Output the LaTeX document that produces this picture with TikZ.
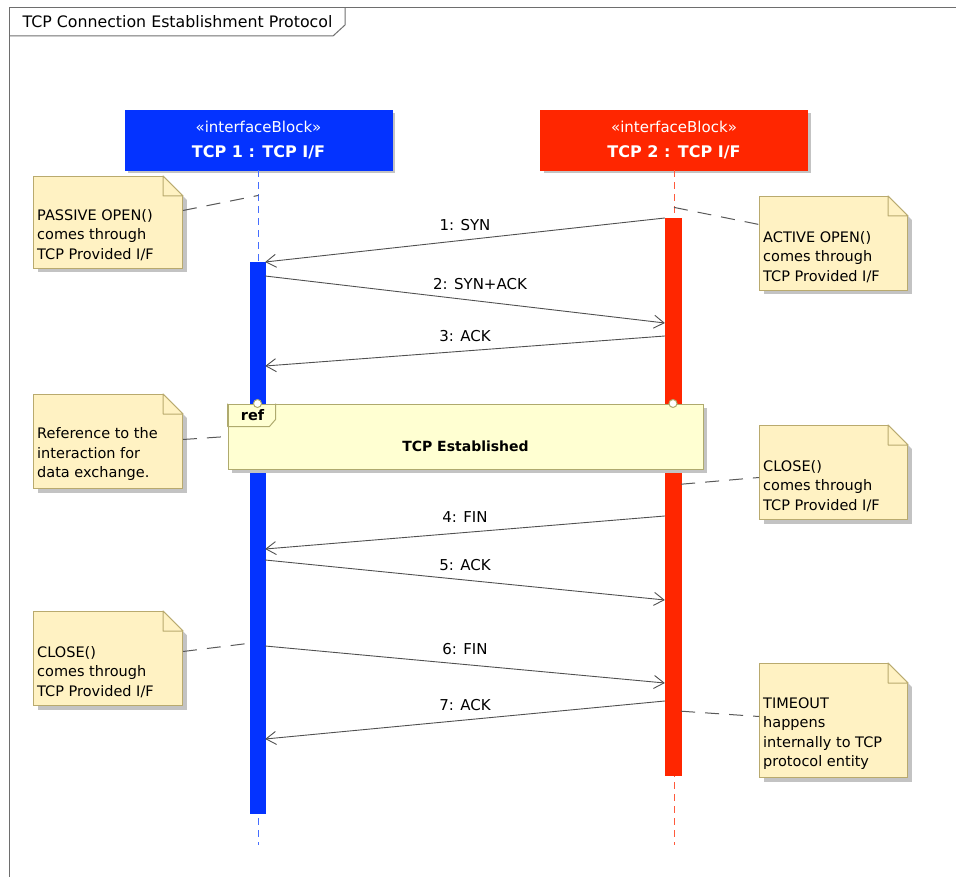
\documentclass[tikz,border=0pt]{standalone}
\usepackage{fontspec}
\setmainfont{DejaVu Sans}
\usetikzlibrary{positioning,arrows.meta,calc,shadows}

\definecolor{tcpblue}{RGB}{4,51,255}
\definecolor{tcpred}{RGB}{255,38,0}
\definecolor{lineblue}{RGB}{70,110,255}
\definecolor{linered}{RGB}{255,90,60}
\definecolor{notefill}{RGB}{255,242,195}
\definecolor{notedraw}{RGB}{185,170,110}
\definecolor{reffill}{RGB}{255,255,210}
\definecolor{refdraw}{RGB}{175,170,110}
\definecolor{msggray}{RGB}{80,80,80}
\definecolor{framegray}{RGB}{110,110,110}
\definecolor{shadowgray}{RGB}{195,195,195}

\begin{document}
\begin{tikzpicture}[x=1pt,y=-1pt,
    font=\fontsize{14.5}{19.5}\selectfont,
% lifeline heads
    block/.style={rectangle,draw=#1,fill=#1,anchor=north,text=white,align=center,
        minimum width=267pt,minimum height=60pt,
        drop shadow={shadow xshift=3pt,shadow yshift=-3pt,fill=shadowgray,opacity=1},
        font=\fontsize{15}{25}\selectfont},
    lifeline/.style={#1,line width=1pt,dash pattern=on 7pt off 5pt},
    activation/.style={rectangle,fill=#1,draw=#1,anchor=north,
        minimum width=15pt,inner sep=0pt},
% messages
    msg/.style={msggray,line width=0.9pt,-{Straight Barb[length=10pt,width=13pt]}},
    msglabel/.style={midway,yshift=15pt,text=black,font=\fontsize{15}{18}\selectfont},
% comment notes
    note/.style={rectangle,draw=notedraw,fill=notefill,anchor=north west,line width=1pt,
        minimum width=149pt,
        drop shadow={shadow xshift=4pt,shadow yshift=-4pt,fill=shadowgray,opacity=1},
        label={[anchor=south west,inner xsep=4pt,inner ysep=8pt,align=left,text=black]south west:#1}},
    fold/.style={draw=notedraw,fill=notefill,line width=1pt,line join=round},
    link/.style={gray!70!black,line width=1pt,dash pattern=on 14pt off 10pt},
    refbox/.style={rectangle,draw=refdraw,fill=reffill,line width=1pt,
        minimum width=475pt,minimum height=65pt,
        drop shadow={shadow xshift=4pt,shadow yshift=-4pt,fill=shadowgray,opacity=1}},
    gate/.style={circle,draw=refdraw,fill=white,line width=1pt,minimum size=8pt,inner sep=0pt}
    ]
\useasboundingbox (0,0) rectangle (956,877);

% diagram frame and title
\draw[framegray,line width=1pt] (9,877) -- (9,8) -- (960,8);
\draw[framegray,line width=1pt] (9,36) -- (333,36) -- (345,25) -- (345,8);
\node[anchor=west,font=\fontsize{15.8}{18}\selectfont] (title) at (19,22) {TCP Connection Establishment Protocol};

% lifelines
\node[block=tcpblue] (tcp1) at (258.5,110) {«interfaceBlock»\\{\fontsize{16}{25}\selectfont\textbf{TCP 1 : TCP I/F}}};
\node[block=tcpred] (tcp2) at (674,110) {«interfaceBlock»\\{\fontsize{16}{25}\selectfont\textbf{TCP 2 : TCP I/F}}};
\draw[lifeline=lineblue] (tcp1.south) -- ([yshift=-675pt]tcp1.south);
\draw[lifeline=linered] (tcp2.south) -- ([yshift=-675pt]tcp2.south);

\node[activation=tcpblue,minimum height=551pt] (blueact) at (257.5,262) {};
\node[activation=tcpred,minimum height=557pt,minimum width=16pt] (redact) at (673,218) {};

% messages
\draw[msg] (redact.north west) -- (blueact.north east) node[msglabel] {1: SYN};
\draw[msg] ([yshift=-14pt]blueact.north east) -- ([yshift=-105pt]redact.north west)
    node[msglabel,xshift=15pt] {2: SYN+ACK};
\draw[msg] ([yshift=-118pt]redact.north west) -- ([yshift=-104pt]blueact.north east)
    node[msglabel] {3: ACK};
\draw[msg] ([yshift=-298pt]redact.north west) -- ([yshift=-287pt]blueact.north east)
    node[msglabel] {4: FIN};
\draw[msg] ([yshift=-298pt]blueact.north east) -- ([yshift=-382pt]redact.north west)
    node[msglabel] {5: ACK};
\draw[msg] ([yshift=-384pt]blueact.north east) -- ([yshift=-465pt]redact.north west)
    node[msglabel] {6: FIN};
\draw[msg] ([yshift=-483pt]redact.north west) -- ([yshift=-477pt]blueact.north east)
    node[msglabel] {7: ACK};

% interaction use
\node[refbox,label={[yshift=-10pt,font=\fontsize{14}{16}\bfseries]center:TCP Established}]
    (refbox) at (465.5,436.5) {};
\draw[refdraw,line width=1pt,line join=round] (refbox.north west) -- ++(0,23) -- ++(42,0)
    -- ++(6,-7) -- ++(0,-16);
\node[font=\fontsize{14.5}{16}\bfseries] (reftag) at ([xshift=25pt,yshift=-12pt]refbox.north west) {ref};
\node[gate] (gate1) at (refbox.north -| blueact) {};
\node[gate] (gate2) at (refbox.north -| redact) {};

% notes
\node[note={PASSIVE OPEN()\\comes through\\TCP Provided I/F},minimum height=92pt] (pasnote) at (33,176) {};
\node[note={ACTIVE OPEN()\\comes through\\TCP Provided I/F},minimum height=94pt,minimum width=148pt] (actnote) at (759,196) {};
\node[note={Reference to the\\interaction for\\data exchange.},minimum height=94pt] (refnote) at (33,394) {};
\node[note={CLOSE()\\comes through\\TCP Provided I/F},minimum height=94pt,minimum width=148pt] (clsnote) at (759,425) {};
\node[note={CLOSE()\\comes through\\TCP Provided I/F},minimum height=94pt] (clsnoteb) at (33,611) {};
\node[note={TIMEOUT\\happens\\internally to TCP\\protocol entity},minimum height=114pt,minimum width=148pt] (tmonote) at (759,663) {};

\foreach \n in {pasnote,actnote,refnote,clsnote,clsnoteb,tmonote} {
  \fill[white] ([xshift=-21pt,yshift=1pt]\n.north east) -- ([xshift=6pt,yshift=1pt]\n.north east)
      -- ([xshift=6pt,yshift=-26pt]\n.north east) -- cycle;
  \draw[notedraw,line width=1pt] ([xshift=-20pt]\n.north east) -- ([yshift=-20pt]\n.north east);
  \draw[fold] ([xshift=-20pt]\n.north east) -- ([xshift=-20pt,yshift=-20pt]\n.north east)
      -- ([yshift=-20pt]\n.north east) -- cycle;
}

% note anchors
\draw[link] ([yshift=12pt]pasnote.east) -- ([yshift=-25pt]tcp1.south);
\draw[link] ([yshift=-37pt]tcp2.south) -- ([yshift=19pt]actnote.west);
\draw[link] ([yshift=2pt]refnote.east) -- (refbox.west);
\draw[link] ([yshift=12.5pt]redact.east) -- ([yshift=-5pt]clsnote.west);
\draw[link] ([yshift=7pt]clsnoteb.east) -- ([yshift=-105.5pt]blueact.west);
\draw[link] ([yshift=-214.5pt]redact.east) -- ([yshift=4pt]tmonote.west);
\end{tikzpicture}
\end{document}
